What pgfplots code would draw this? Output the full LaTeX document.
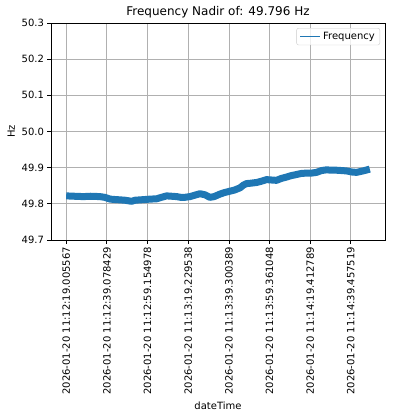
\documentclass[border=0pt]{standalone}
\usepackage{fontspec}
\setmainfont{DejaVu Sans}
\usepackage{pgfplots}
\pgfplotsset{compat=1.18}
\definecolor{mblue}{HTML}{1F77B4}
\definecolor{mgrid}{HTML}{B0B0B0}
\begin{document}
\begin{tikzpicture}
\begin{axis}[
  at={(0pt,0pt)}, anchor=south west,
  scale only axis, width=334pt, height=217pt,
  xmin=-7.49, xmax=157.3, ymin=49.7, ymax=50.3,
  ytick={49.7,49.8,49.9,50.0,50.1,50.2,50.3},
  yticklabel style={/pgf/number format/fixed, /pgf/number format/fixed zerofill, /pgf/number format/precision=1, font=\fontsize{10}{12}\selectfont},
  /pgf/number format/assume math mode=true,
  xtick={0,20.072862,40.149411,60.223971,80.294822,100.355481,120.407222,140.451952},
  xticklabels={2026-01-20 11:12:19.005567,2026-01-20 11:12:39.078429,2026-01-20 11:12:59.154978,2026-01-20 11:13:19.229538,2026-01-20 11:13:39.300389,2026-01-20 11:13:59.361048,2026-01-20 11:14:19.412789,2026-01-20 11:14:39.457519},
  xticklabel style={rotate=90, anchor=east, font=\fontsize{10}{12}\selectfont},
  tick align=outside, major tick length=3.5pt,
  tick style={black, line width=0.8pt},
  axis line style={black, line width=0.8pt},
  grid=major, grid style={mgrid, line width=0.8pt},
  xtick pos=bottom, ytick pos=left,
  title={Frequency Nadir of: 49.796 Hz},
  title style={font=\fontsize{12}{14}\selectfont, yshift=-5pt},
  xlabel={dateTime}, ylabel={Hz},
  label style={font=\fontsize{10}{12}\selectfont},
  legend style={at={(1,1)}, anchor=north east, xshift=-5pt, yshift=-5pt,
    draw=black!20, rounded corners=2pt, font=\fontsize{10}{12}\selectfont,
    fill=white, fill opacity=0.8, text opacity=1},
  legend cell align=left,
  legend image code/.code={\draw[#1] (0pt,0pt) -- (20pt,0pt);},
]
\addlegendimage{mblue, line width=1.5pt}
\addlegendentry{Frequency}
\addplot[mblue, line width=7pt, line join=round, forget plot] coordinates {
(0,49.822) (4,49.821) (8.5,49.820) (12,49.821) (16.7,49.820) (19,49.818)
(21.7,49.813) (24,49.812) (26.6,49.811) (29,49.810) (32.3,49.807) (34,49.810)
(36.5,49.811) (39,49.812) (41.4,49.813) (44.7,49.814) (47,49.818) (49.6,49.822)
(52,49.821) (54.5,49.820) (56.5,49.818) (58.6,49.818) (61.1,49.820) (63.5,49.824)
(66,49.828) (68.5,49.825) (70.9,49.818) (73,49.820) (75.9,49.827) (78,49.831)
(80.8,49.835) (83,49.838) (85.7,49.844) (87.5,49.852) (89,49.856) (91,49.857)
(93.9,49.859) (96,49.862) (98.9,49.867) (101,49.866) (103.8,49.865) (106,49.870)
(108.7,49.874) (111,49.878) (113.6,49.881) (116,49.884) (118.6,49.885) (121,49.885)
(123.5,49.887) (126,49.892) (128.4,49.894) (131,49.893) (133.3,49.893) (136,49.892)
(138.3,49.891) (141,49.888) (143.2,49.887) (146.5,49.891) (149.8,49.896)
};
\end{axis}
\path (-51pt,-176pt) rectangle (341pt,240pt);
\end{tikzpicture}
\end{document}
